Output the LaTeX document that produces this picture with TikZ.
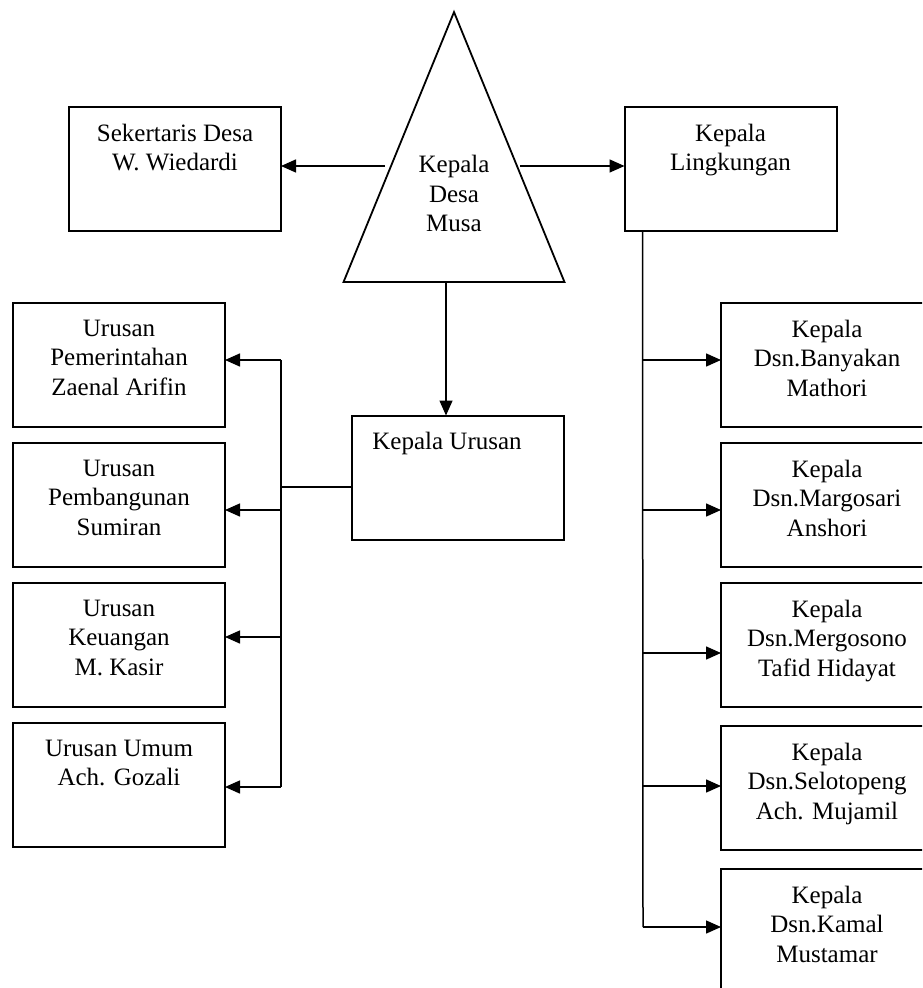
\documentclass[tikz,border=0pt]{standalone}
\usepackage{fontspec}
\setmainfont{Liberation Serif}
\usetikzlibrary{arrows.meta,positioning,shapes.geometric}

\begin{document}
\begin{tikzpicture}[
  x=0.5pt, y=-0.5pt,
  font=\fontsize{12.5pt}{14.7pt}\selectfont,
  box/.style={draw, rectangle, line width=1pt, outer sep=0pt, minimum width=106pt, minimum height=62pt, inner sep=0pt},
  txt/.style={align=center, inner sep=0pt},
  arr/.style={-{Triangle[length=7.5pt,width=6.5pt]}, line width=0.75pt},
  link/.style={line width=0.75pt},
  node distance=8pt
]
  \useasboundingbox (0,0) rectangle (922,988);
  \clip (0,0) rectangle (922,988);

  % kepala desa
  \node[draw, line width=0.9pt, isosceles triangle, isosceles triangle stretches, shape border rotate=90,
        minimum width=110.5pt, minimum height=135pt, inner sep=0pt, anchor=lower side] (kades) at (454,283) {};
  \node[txt, anchor=north] (kades-t) at (454,155) {Kepala\\Desa\\Musa};

  % top row
  \node[box] (sekdes) at (175,169) {};
  \node[txt, below=8.3pt of sekdes.north] (sekdes-t) {Sekertaris Desa\\W. Wiedardi};
  \node[box] (kaling) at (730.5,169) {};
  \node[txt, below=8.3pt of kaling.north] (kaling-t) {Kepala\\Lingkungan};

  % kepala urusan
  \node[box] (kaur) at (458,477.5) {};
  \node[txt, anchor=north west] (kaur-t) at ([xshift=10pt,yshift=-8.3pt]kaur.north west) {Kepala Urusan};

  % urusan
  \node[box] (pem) at (119,365) {};
  \node[box, below=of pem] (pemb) {};
  \node[box, below=of pemb] (keu) {};
  \node[box, below=of keu] (umum) {};
  \node[txt, below=8.4pt of pem.north] (pem-t) {Urusan\\Pemerintahan\\Zaenal Arifin};
  \node[txt, below=8.4pt of pemb.north] (pemb-t) {Urusan\\Pembangunan\\Sumiran};
  \node[txt, below=8.4pt of keu.north] (keu-t) {Urusan\\Keuangan\\M. Kasir};
  \node[txt, below=8.4pt of umum.north] (umum-t) {Urusan Umum\\Ach. Gozali};

  % dusun
  \node[box] (dsn1) at (827,365) {};
  \node[box, below=of dsn1] (dsn2) {};
  \node[box, below=of dsn2] (dsn3) {};
  \node[box, below=9.5pt of dsn3] (dsn4) {};
  \node[box, below=9.5pt of dsn4] (dsn5) {};
  \node[txt, below=8.3pt of dsn1.north] (dsn1-t) {Kepala\\Dsn.Banyakan\\Mathori};
  \node[txt, below=8.3pt of dsn2.north] (dsn2-t) {Kepala\\Dsn.Margosari\\Anshori};
  \node[txt, below=8.3pt of dsn3.north] (dsn3-t) {Kepala\\Dsn.Mergosono\\Tafid Hidayat};
  \node[txt, below=8.3pt of dsn4.north] (dsn4-t) {Kepala\\Dsn.Selotopeng\\Ach. Mujamil};
  \node[txt, below=8.3pt of dsn5.north] (dsn5-t) {Kepala\\Dsn.Kamal\\Mustamar};

  % connectors
  \coordinate (kdW) at (385,166);
  \coordinate (kdE) at (520,166);
  \coordinate (kdS) at (446,283);
  \draw[arr] (kdW) -- (kdW -| sekdes.east);
  \draw[arr] (kdE) -- (kdE -| kaling.west);
  \draw[arr] (kdS) -- (kdS |- kaur.north);

  \coordinate (lbusT) at (281,360);
  \coordinate (lbusB) at (281,787);
  \draw[link] (lbusT) -- (lbusB);
  \draw[link] ([yshift=-4.75pt]kaur.west) -- ([yshift=-4.75pt]kaur.west -| lbusT);
  \foreach \b/\s in {pem/2.5pt, pemb/-2.5pt, keu/4pt, umum/-1pt}
    \draw[arr] ([yshift=\s]\b.east -| lbusT) -- ([yshift=\s]\b.east);

  \coordinate (rbusT) at ([xshift=9pt]kaling.south west);
  \coordinate (rbusB) at (643,927);
  \draw[link] (rbusT) -- (rbusB);
  \foreach \b/\s in {dsn1/2.5pt, dsn2/-2.5pt, dsn3/-4pt, dsn4/1pt, dsn5/2pt}
    \draw[arr] ([yshift=\s]\b.west -| rbusT) -- ([yshift=\s]\b.west);
\end{tikzpicture}
\end{document}
